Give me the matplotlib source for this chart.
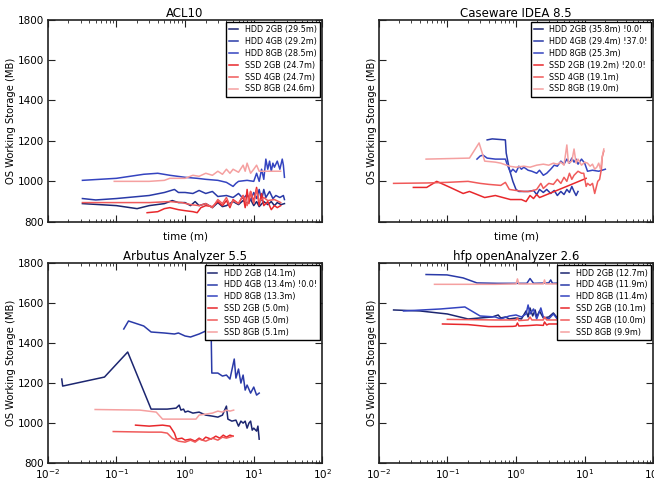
import matplotlib
matplotlib.use('Agg')
import matplotlib.pyplot as plt

plt.rcParams['font.family'] = ['DejaVu Sans']

colors = ['#1c2670', '#2a3aa8', '#3444c0', '#e8282c', '#f05a5a', '#f5a0a0']
names = ['HDD 2GB', 'HDD 4GB', 'HDD 8GB', 'SSD 2GB', 'SSD 4GB', 'SSD 8GB']

# ---- ACL10 ----
acl_labels = ['HDD 2GB (29.5m)', 'HDD 4GB (29.2m)', 'HDD 8GB (28.5m)',
              'SSD 2GB (24.7m)', 'SSD 4GB (24.7m)', 'SSD 8GB (24.6m)']
acl_hdd2_t = [0.032, 0.1, 0.2, 0.3, 0.5, 0.65, 0.8, 1.0, 1.2, 1.4, 1.6, 2, 2.5, 3, 3.5, 4, 5, 6, 7, 8, 9, 10, 11, 12, 14, 16, 18, 20, 22, 25, 28]
acl_hdd2_y = [890, 880, 865, 880, 890, 905, 895, 895, 880, 900, 880, 890, 870, 895, 875, 880, 900, 885, 905, 890, 910, 880, 900, 875, 900, 885, 900, 880, 895, 885, 890]
acl_hdd4_t = [0.032, 0.05, 0.1, 0.3, 0.5, 0.7, 0.8, 1.0, 1.3, 1.6, 2, 2.5, 3, 4, 5, 6, 7, 8, 9, 10, 11, 12, 13, 14, 15, 17, 19, 21, 24, 27, 28]
acl_hdd4_y = [915, 908, 915, 930, 945, 960, 945, 945, 940, 955, 940, 950, 925, 930, 920, 940, 915, 935, 905, 945, 915, 960, 905, 960, 920, 950, 915, 930, 920, 930, 910]
acl_hdd8_t = [0.032, 0.1, 0.25, 0.4, 0.6, 1.0, 1.5, 2, 3, 4, 5, 5.5, 6, 8, 10, 11, 12, 13, 14, 15, 16, 17, 18, 19, 20, 22, 24, 26, 27, 28]
acl_hdd8_y = [1005, 1015, 1035, 1040, 1030, 1020, 1015, 1010, 1005, 995, 975, 990, 1000, 1005, 1000, 1040, 1000, 1060, 1010, 1110, 1060, 1100, 1050, 1090, 1070, 1100, 1060, 1110, 1080, 1020]
acl_ssd2_t = [0.28, 0.4, 0.5, 0.6, 0.8, 1.0, 1.3, 1.5, 1.7, 2, 2.5, 3, 3.5, 4, 4.5, 5, 6, 7, 7.5, 8, 8.5, 9, 10, 11, 12, 13, 14, 16, 18, 20, 22, 24.7]
acl_ssd2_y = [845, 850, 865, 870, 860, 855, 850, 845, 870, 880, 875, 900, 880, 905, 870, 910, 890, 930, 870, 960, 890, 950, 900, 970, 880, 940, 880, 900, 860, 880, 870, 880]
acl_ssd4_t = [0.032, 0.1, 0.3, 0.6, 0.9, 1.2, 1.6, 2, 2.5, 3, 3.5, 4, 4.5, 5, 6, 7, 8, 9, 10, 11, 12, 14, 16, 20, 24.7]
acl_ssd4_y = [895, 895, 895, 900, 895, 885, 880, 890, 870, 910, 890, 920, 880, 905, 890, 930, 880, 950, 890, 960, 900, 920, 905, 910, 895]
acl_ssd8_t = [0.093, 0.3, 0.5, 0.6, 1.0, 1.3, 1.6, 2, 2.5, 3, 3.5, 4, 4.5, 5, 6, 7, 7.5, 8, 9, 10, 11, 12, 14, 18, 24.6]
acl_ssd8_y = [1000, 1000, 1005, 1015, 1015, 1030, 1025, 1040, 1030, 1050, 1035, 1060, 1040, 1060, 1045, 1080, 1050, 1090, 1040, 1060, 1080, 1050, 1050, 1050, 1050]

# ---- Caseware IDEA 8.5 ----
cw_labels = ['HDD 2GB (35.8m) !0.0!', 'HDD 4GB (29.4m) !37.0!', 'HDD 8GB (25.3m)',
             'SSD 2GB (19.2m) !20.0!', 'SSD 4GB (19.1m)', 'SSD 8GB (19.0m)']
cw_hdd2_t = []
cw_hdd2_y = []
cw_hdd4_t = [0.38, 0.45, 0.7, 0.72, 0.8, 0.9, 1.0, 1.1, 1.5, 1.8, 2.0, 2.2, 2.5, 2.8, 3.2, 3.6, 4, 4.5, 5, 5.5, 6, 6.5, 7, 7.5, 8]
cw_hdd4_y = [1205, 1210, 1205, 1140, 1060, 1000, 960, 950, 950, 955, 935, 960, 945, 960, 940, 955, 930, 950, 935, 960, 945, 975, 950, 930, 950]
cw_hdd8_t = [0.27, 0.3, 0.33, 0.38, 0.5, 0.7, 0.75, 0.83, 0.9, 1.0, 1.1, 1.2, 1.3, 1.5, 1.7, 2.0, 2.2, 2.5, 2.8, 3.2, 3.6, 4, 4.5, 5, 5.5, 6, 6.5, 7, 7.5, 8, 9, 10, 11, 13, 16, 20]
cw_hdd8_y = [1110, 1125, 1130, 1115, 1110, 1110, 1080, 1045, 1060, 1045, 1075, 1060, 1070, 1055, 1050, 1040, 1055, 1030, 1040, 1060, 1080, 1075, 1100, 1085, 1110, 1090, 1115, 1095, 1110, 1085, 1110, 1090, 1050, 1055, 1050, 1060]
cw_ssd2_t = [0.032, 0.05, 0.07, 0.11, 0.17, 0.21, 0.35, 0.5, 0.83, 1.2, 1.4, 1.6, 1.8, 2.0, 2.2, 2.4, 9.7, 10.5]
cw_ssd2_y = [970, 970, 1000, 970, 940, 950, 920, 930, 910, 910, 900, 930, 915, 935, 920, 925, 1010, 1015]
cw_ssd4_t = [0.0165, 0.05, 0.1, 0.2, 0.3, 0.4, 0.6, 0.7, 0.8, 1.0, 1.3, 1.6, 2.0, 2.3, 2.5, 3, 3.5, 4, 4.5, 5, 5.5, 6, 6.5, 7, 8, 9, 9.7, 10.5, 11, 12, 13, 14, 15.5, 16.5, 17.5, 18, 19]
cw_ssd4_y = [990, 992, 995, 1000, 990, 985, 980, 995, 960, 955, 950, 950, 960, 990, 965, 990, 985, 1010, 990, 1020, 1000, 1040, 1010, 1030, 1050, 1040, 1040, 975, 990, 980, 990, 940, 1000, 1010, 1060, 1120, 1150]
cw_ssd8_t = [0.049, 0.21, 0.29, 0.35, 0.5, 0.6, 0.8, 1.0, 1.3, 1.6, 2.0, 2.5, 3, 3.5, 4, 4.5, 5, 5.5, 5.8, 6.5, 7, 7.5, 8, 9, 10, 11, 12, 13, 14, 15, 16, 17, 18, 19]
cw_ssd8_y = [1110, 1115, 1190, 1100, 1095, 1090, 1075, 1070, 1075, 1070, 1080, 1085, 1080, 1090, 1085, 1095, 1080, 1180, 1090, 1100, 1160, 1090, 1110, 1080, 1095, 1090, 1075, 1085, 1060, 1070, 1090, 1060, 1120, 1160]

# ---- Arbutus Analyzer 5.5 ----
ab_labels = ['HDD 2GB (14.1m)', 'HDD 4GB (13.4m) !0.0!', 'HDD 8GB (13.3m)',
             'SSD 2GB (5.0m)', 'SSD 4GB (5.0m)', 'SSD 8GB (5.1m)']
ab_hdd2_t = [0.016, 0.0165, 0.067, 0.146, 0.32, 0.55, 0.74, 0.82, 0.87, 0.95, 1.0, 1.1, 1.3, 1.6, 2.0, 2.5, 3, 3.5, 4, 4.2, 4.8, 5.5, 6, 6.5, 7, 7.5, 8, 8.5, 9, 9.5, 10, 11, 11.5, 12]
ab_hdd2_y = [1220, 1185, 1230, 1355, 1070, 1070, 1075, 1090, 1065, 1070, 1055, 1060, 1050, 1055, 1040, 1035, 1030, 1040, 1085, 1020, 1010, 1015, 985, 1010, 1000, 1010, 975, 1000, 1010, 965, 975, 960, 985, 920]
ab_hdd4_t = [0.128, 0.15, 0.25, 0.32, 0.5, 0.7, 0.8, 1.0, 1.2, 1.6, 2.0, 2.3, 2.4, 2.45, 3, 3.5, 4, 4.5, 5.2, 5.5, 6, 6.5, 7, 7.5, 8, 9, 10, 11, 12]
ab_hdd4_y = [1470, 1510, 1485, 1455, 1450, 1445, 1450, 1435, 1430, 1445, 1460, 1450, 1440, 1250, 1250, 1235, 1240, 1220, 1320, 1225, 1270, 1200, 1240, 1165, 1190, 1150, 1180, 1140, 1150]
ab_hdd8_t = []
ab_hdd8_y = []
ab_ssd2_t = [0.19, 0.3, 0.47, 0.6, 0.7, 0.75, 0.9, 1.0, 1.2, 1.4, 1.6, 1.8, 2, 2.4, 2.8, 3.2, 3.6, 4, 4.5, 5.0]
ab_ssd2_y = [990, 985, 990, 985, 950, 920, 925, 915, 920, 910, 925, 915, 930, 920, 935, 925, 940, 930, 940, 935]
ab_ssd4_t = [0.09, 0.3, 0.45, 0.55, 0.65, 0.8, 1.0, 1.2, 1.4, 1.6, 2.0, 2.5, 3, 3.5, 4, 5.0]
ab_ssd4_y = [958, 955, 955, 950, 925, 910, 905, 915, 905, 920, 910, 925, 915, 930, 925, 935]
ab_ssd8_t = [0.049, 0.22, 0.38, 0.47, 1.44, 1.6, 2, 2.5, 3, 3.5, 4, 4.5, 5.1]
ab_ssd8_y = [1068, 1065, 1055, 1020, 1020, 1040, 1045, 1050, 1060, 1055, 1065, 1060, 1065]

# ---- hfp openAnalyzer 2.6 ----
hf_labels = ['HDD 2GB (12.7m)', 'HDD 4GB (11.9m)', 'HDD 8GB (11.4m)',
             'SSD 2GB (10.1m)', 'SSD 4GB (10.0m)', 'SSD 8GB (9.9m)']
hf_hdd2_t = [0.0165, 0.04, 0.1, 0.2, 0.3, 0.45, 0.55, 0.6, 0.7, 0.8, 1.0, 1.2, 1.4, 1.5, 1.6, 1.75, 1.9, 2.0, 2.2, 2.5, 3, 3.5, 4, 5, 6, 8, 10, 12.7]
hf_hdd2_y = [1565, 1560, 1545, 1520, 1525, 1530, 1540, 1525, 1530, 1520, 1525, 1520, 1560, 1530, 1575, 1535, 1565, 1530, 1560, 1525, 1530, 1550, 1525, 1540, 1530, 1540, 1530, 1535]
hf_hdd4_t = [0.049, 0.099, 0.17, 0.27, 0.53, 1.44, 1.6, 1.8, 3.0, 3.2, 3.4, 5, 8, 11.9]
hf_hdd4_y = [1742, 1740, 1725, 1700, 1698, 1698, 1722, 1698, 1700, 1715, 1698, 1700, 1698, 1700]
hf_hdd8_t = [0.023, 0.08, 0.18, 0.3, 0.5, 0.6, 0.8, 1.0, 1.2, 1.4, 1.5, 1.6, 1.8, 2.0, 2.3, 2.5, 3, 3.5, 4, 6, 8, 11.4]
hf_hdd8_y = [1560, 1570, 1580, 1535, 1530, 1520, 1535, 1540, 1530, 1545, 1590, 1545, 1570, 1520, 1575, 1530, 1520, 1545, 1520, 1535, 1525, 1530]
hf_ssd2_t = [0.085, 0.2, 0.4, 0.6, 0.9, 1.0, 1.05, 1.1, 1.5, 2.0, 2.5, 2.6, 2.8, 3, 5, 10.1]
hf_ssd2_y = [1495, 1492, 1482, 1482, 1483, 1485, 1500, 1485, 1487, 1490, 1488, 1505, 1490, 1495, 1495, 1500]
hf_ssd4_t = [0.1, 0.5, 1.0, 1.05, 1.1, 1.5, 1.6, 1.7, 2.5, 2.6, 2.8, 5, 10.0]
hf_ssd4_y = [1518, 1515, 1515, 1525, 1512, 1515, 1530, 1515, 1515, 1530, 1515, 1515, 1520]
hf_ssd8_t = [0.065, 0.5, 1.0, 1.05, 1.1, 2.5, 2.6, 2.7, 5, 9.9]
hf_ssd8_y = [1693, 1693, 1695, 1720, 1695, 1695, 1715, 1695, 1695, 1695]

panels = [
    ('ACL10', acl_labels,
     [(acl_hdd2_t, acl_hdd2_y), (acl_hdd4_t, acl_hdd4_y), (acl_hdd8_t, acl_hdd8_y),
      (acl_ssd2_t, acl_ssd2_y), (acl_ssd4_t, acl_ssd4_y), (acl_ssd8_t, acl_ssd8_y)]),
    ('Caseware IDEA 8.5', cw_labels,
     [(cw_hdd2_t, cw_hdd2_y), (cw_hdd4_t, cw_hdd4_y), (cw_hdd8_t, cw_hdd8_y),
      (cw_ssd2_t, cw_ssd2_y), (cw_ssd4_t, cw_ssd4_y), (cw_ssd8_t, cw_ssd8_y)]),
    ('Arbutus Analyzer 5.5', ab_labels,
     [(ab_hdd2_t, ab_hdd2_y), (ab_hdd4_t, ab_hdd4_y), (ab_hdd8_t, ab_hdd8_y),
      (ab_ssd2_t, ab_ssd2_y), (ab_ssd4_t, ab_ssd4_y), (ab_ssd8_t, ab_ssd8_y)]),
    ('hfp openAnalyzer 2.6', hf_labels,
     [(hf_hdd2_t, hf_hdd2_y), (hf_hdd4_t, hf_hdd4_y), (hf_hdd8_t, hf_hdd8_y),
      (hf_ssd2_t, hf_ssd2_y), (hf_ssd4_t, hf_ssd4_y), (hf_ssd8_t, hf_ssd8_y)]),
]

fig = plt.figure(figsize=(6.54, 4.78), dpi=100)
boxes = [[0.073, 0.536, 0.420, 0.423], [0.579, 0.536, 0.420, 0.423],
         [0.073, 0.031, 0.420, 0.419], [0.579, 0.031, 0.420, 0.419]]

for i, (title, labels, series) in enumerate(panels):
    ax = fig.add_axes(boxes[i])
    for (t, y), c, lab in zip(series, colors, labels):
        ax.plot(t, y, color=c, lw=1.1, label=lab)
    ax.set_xscale('log')
    ax.set_xlim(1e-2, 1e2)
    ax.set_ylim(800, 1800)
    ax.set_yticks([800, 1000, 1200, 1400, 1600, 1800])
    for sp in ax.spines.values():
        sp.set_linewidth(1.2)
        sp.set_color('#222222')
    ax.set_title(title, fontsize=8.5, pad=2)
    ax.tick_params(which='both', direction='in', top=True, right=True, labelsize=7.5, pad=3,
                   color='#222222')
    ax.tick_params(which='major', length=5)
    ax.tick_params(which='minor', length=2.5)
    ax.set_ylabel('OS Working Storage (MB)', fontsize=7.2, labelpad=1)
    if i < 2:
        ax.set_xlabel('time (m)', fontsize=7.5, labelpad=4)
        ax.tick_params(labelbottom=False)
    if i % 2 == 1:
        ax.tick_params(labelleft=False)
    leg = ax.legend(loc='upper right', fontsize=5.8, fancybox=False, framealpha=1,
                    edgecolor='black', handlelength=1.1, handletextpad=0.8,
                    labelspacing=0.35, borderaxespad=0.3, borderpad=0.4)
    leg.get_frame().set_linewidth(1.0)

fig.savefig('out.png', dpi=100)
